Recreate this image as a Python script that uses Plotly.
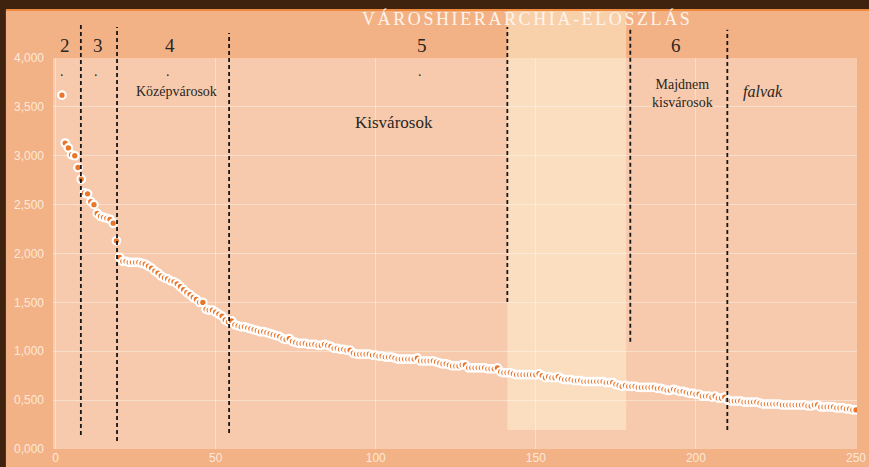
import plotly.graph_objects as go

# Town rank (x) and hierarchy index (y)
ranks = list(range(2, 251))
index_values = [
    3.62, 3.13, 3.08, 3.01, 3.00, 2.88, 2.76, 2.62, 2.61, 2.53,
    2.50, 2.41, 2.38, 2.37, 2.36, 2.35, 2.31, 2.13, 1.96, 1.92,
    1.92, 1.91, 1.91, 1.91, 1.91, 1.90, 1.89, 1.87, 1.85, 1.82,
    1.80, 1.77, 1.75, 1.74, 1.72, 1.71, 1.69, 1.66, 1.63, 1.60,
    1.58, 1.55, 1.53, 1.50, 1.50, 1.43, 1.42, 1.42,
    # 50..100
    1.40, 1.38, 1.36, 1.32, 1.30, 1.31, 1.27, 1.26, 1.25, 1.25,
    1.24, 1.23, 1.22, 1.21, 1.20, 1.20, 1.19, 1.18, 1.17, 1.16,
    1.15, 1.13, 1.12, 1.13, 1.10, 1.09, 1.08, 1.08, 1.08, 1.07,
    1.07, 1.07, 1.06, 1.06, 1.07, 1.06, 1.05, 1.03, 1.03, 1.02,
    1.02, 1.01, 1.01, 0.98, 0.97, 0.97, 0.97, 0.97, 0.97, 0.96,
    0.96,
    # 101..151
    0.95, 0.95, 0.94, 0.94, 0.94, 0.93, 0.92, 0.92, 0.92, 0.92,
    0.92, 0.92, 0.93, 0.90, 0.90, 0.90, 0.90, 0.90, 0.89, 0.88,
    0.87, 0.87, 0.86, 0.85, 0.85, 0.85, 0.86, 0.86, 0.83, 0.83,
    0.83, 0.83, 0.83, 0.83, 0.82, 0.82, 0.82, 0.83, 0.79, 0.78,
    0.78, 0.78, 0.77, 0.76, 0.76, 0.76, 0.76, 0.76, 0.76, 0.76,
    0.77,
    # 152..201
    0.75, 0.73, 0.74, 0.73, 0.73, 0.74, 0.72, 0.71, 0.71, 0.71,
    0.70, 0.70, 0.70, 0.69, 0.69, 0.69, 0.69, 0.69, 0.69, 0.69,
    0.68, 0.68, 0.68, 0.66, 0.65, 0.64, 0.65, 0.64, 0.64, 0.64,
    0.63, 0.63, 0.63, 0.63, 0.63, 0.63, 0.62, 0.62, 0.61, 0.60,
    0.60, 0.61, 0.60, 0.59, 0.59, 0.58, 0.57, 0.57, 0.56, 0.56,
    # 202..250
    0.54, 0.54, 0.54, 0.53, 0.54, 0.52, 0.52, 0.53, 0.50, 0.49,
    0.49, 0.49, 0.49, 0.48, 0.48, 0.48, 0.48, 0.48, 0.47, 0.46,
    0.46, 0.46, 0.46, 0.46, 0.46, 0.45, 0.45, 0.45, 0.45, 0.45,
    0.45, 0.45, 0.45, 0.44, 0.44, 0.45, 0.45, 0.43, 0.43, 0.43,
    0.43, 0.43, 0.42, 0.42, 0.42, 0.41, 0.41, 0.40, 0.40,
]

y_ticks = [0, 0.5, 1.0, 1.5, 2.0, 2.5, 3.0, 3.5, 4.0]
x_ticks = [0, 50, 100, 150, 200, 250]

# tier boundaries (rank) and the highlighted rank band
boundaries = [7.9, 19.2, 54.2, 141.1, 179.5, 209.8]
highlight_band = [141.1, 178.2]

tier_numbers = ["2", "3", "4", "5", "6"]
tier_names = ["Középvárosok", "Kisvárosok", "Majdnem<br>kisvárosok", "falvak"]
title_text = "VÁROSHIERARCHIA-ELOSZLÁS"

PAPER = "#F3B285"
PLOT = "#F7CAAD"
BROWN = "#40230F"
INK = "#2A2622"
SERIF = "Liberation Serif"

fig = go.Figure()

fig.add_trace(
    go.Scatter(
        x=ranks,
        y=index_values,
        mode="markers",
        marker=dict(size=7.5, color="#EA762C", line=dict(color="#FFFFFF", width=2.2)),
        hoverinfo="skip",
    )
)

shapes = []

# pale band behind ranks ~141-178
shapes.append(
    dict(
        type="rect", xref="x", yref="paper",
        x0=highlight_band[0], x1=highlight_band[1], y0=0.0486, y1=1.1228,
        fillcolor="rgba(255,246,215,0.45)", line=dict(width=0), layer="below",
    )
)

# dashed tier dividers (top/bottom in paper units)
divider_extent = [(1.0895, 0.0358), (1.079, 0.0205), (1.064, 0.041),
                  (1.079, 0.376), (1.077, 0.274), (1.072, 0.0486)]
for bx, (top, bottom) in zip(boundaries, divider_extent):
    shapes.append(
        dict(
            type="line", xref="x", yref="paper", x0=bx, x1=bx, y0=bottom, y1=top,
            line=dict(color="#161616", width=1.8, dash="4px,3px"), layer="above",
        )
    )

# dark frame at the top and left edges of the slide
shapes.append(dict(type="rect", xref="paper", yref="paper", x0=-0.2, x1=1.2,
                   y0=1.1228, y1=1.25, fillcolor=BROWN, line=dict(width=0)))
shapes.append(dict(type="line", xref="paper", yref="paper", x0=-0.0586, x1=1.2,
                   y0=1.1228, y1=1.1228, line=dict(color="#EE8A3E", width=2)))
shapes.append(dict(type="rect", xref="paper", yref="paper", x0=-0.2, x1=-0.0586,
                   y0=-0.2, y1=1.25, fillcolor=BROWN, line=dict(width=0)))

annotations = [
    dict(text=f'<span style="letter-spacing:2.6px">{title_text}</span>',
         xref="paper", yref="paper", x=0.59, y=1.102, yanchor="middle",
         showarrow=False, font=dict(family=SERIF, size=18, color="#FFF4EC")),
]

for label, tx in zip(tier_numbers, [2.9, 13.3, 35.8, 114.5, 193.9]):
    annotations.append(
        dict(text=label, xref="x", yref="paper", x=tx, y=1.033, yanchor="middle",
             showarrow=False, font=dict(family=SERIF, size=19, color=INK))
    )

for tx in [2.0, 12.6, 35.1, 113.9]:
    annotations.append(
        dict(text=".", xref="x", yref="paper", x=tx, y=0.965, yanchor="middle",
             showarrow=False, font=dict(family=SERIF, size=14, color=INK))
    )

name_spec = [(37.9, 0.9156, 14, "normal"), (105.75, 0.836, 17, "normal"),
             (195.75, 0.91, 14, "normal"), (221.0, 0.913, 16, "italic")]
for label, (tx, ty, size, style) in zip(tier_names, name_spec):
    annotations.append(
        dict(text=label, xref="x", yref="paper", x=tx, y=ty, yanchor="middle",
             showarrow=False, font=dict(family=SERIF, size=size, color=INK, style=style))
    )

fig.update_layout(
    width=869,
    height=467,
    margin=dict(l=53, r=12, t=58, b=18),
    paper_bgcolor=PAPER,
    plot_bgcolor=PLOT,
    showlegend=False,
    separators=",.",
    shapes=shapes,
    annotations=annotations,
    xaxis=dict(
        range=[-0.8, 250.3],
        tickvals=x_ticks,
        showgrid=True,
        gridcolor="rgba(255,255,255,0.38)",
        gridwidth=1,
        zeroline=False,
        showline=False,
        automargin=False,
        tickfont=dict(family="Liberation Sans", size=12, color="#FCE8DA"),
    ),
    yaxis=dict(
        range=[0, 4],
        tickvals=y_ticks,
        tickformat=".3f",
        showgrid=True,
        gridcolor="rgba(255,255,255,0.38)",
        gridwidth=1,
        zeroline=False,
        showline=False,
        automargin=False,
        ticklabelstandoff=8,
        tickfont=dict(family="Liberation Sans", size=12, color="#FCE8DA"),
    ),
)

# the page's default body margin would offset the figure by 8px
fig.write_html(
    "out.html",
    config={"displayModeBar": False},
    post_script="document.body.style.margin='0';document.body.style.overflow='hidden';",
)
